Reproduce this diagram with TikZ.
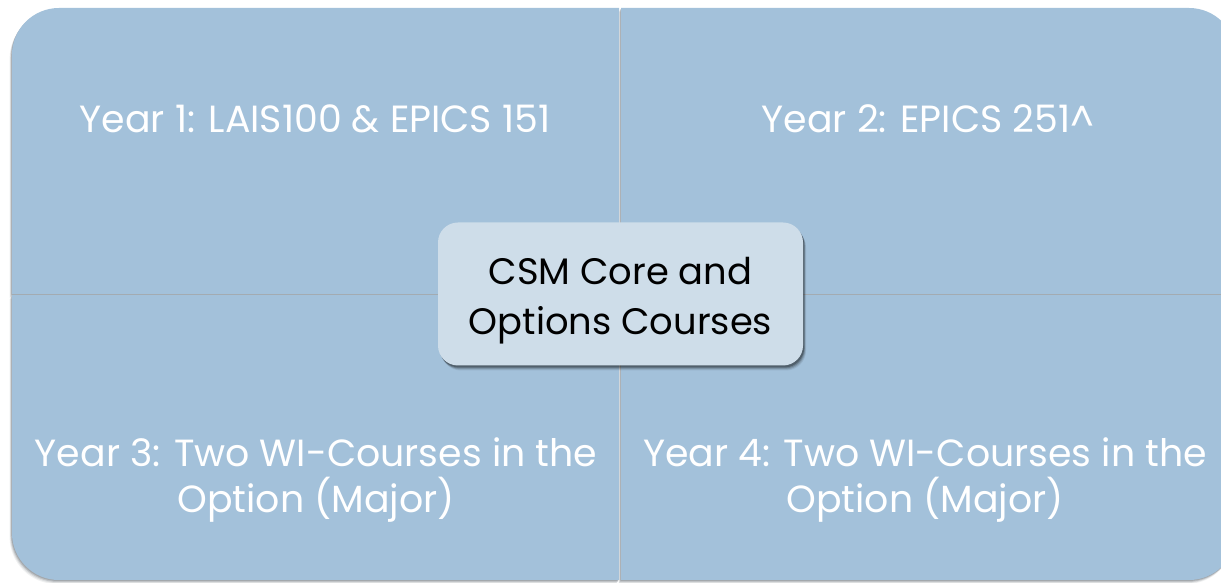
\documentclass[tikz,border=0pt]{standalone}
\usepackage{fontspec}
\setmainfont{Poppins}
\definecolor{quadfill}{RGB}{163,193,218}
\definecolor{hubfill}{RGB}{206,221,233}
\definecolor{quadshadow}{RGB}{110,118,126}
\tikzset{
  quad/.style={fill=quadfill},
  quadshade/.style={fill=quadshadow},
  yeartext/.style={text=white, align=center, font=\fontsize{38}{47}\selectfont, inner sep=0pt},
  hub/.style={fill=hubfill, rounded corners=20bp, minimum width=365bp, minimum height=143bp, inner sep=0pt},
  hubtext/.style={align=center, text=black, font=\fontsize{37}{50}\selectfont, inner sep=0pt},
}
\newcommand{\qr}{47}
\begin{document}
\begin{tikzpicture}[x=1bp,y=1bp]
\useasboundingbox (0,0) rectangle (1221,583);
\fill[white] (0,0) rectangle (1221,583);
\begin{scope}
\clip (0,0) rectangle (1221,583);
% soft shadow under the four quadrants
\foreach \o/\a in {4/0.10,3/0.15,2/0.25,1/0.35}{
  \begin{scope}[shift={(-0.6*\o,-\o)}]
    \fill[quadshade, opacity=\a] (12,289) -- (12,575-\qr) arc[start angle=180,end angle=90,radius=\qr] -- (619,575) -- (619,289) -- cycle;
    \fill[quadshade, opacity=\a] (621,289) -- (621,575) -- (1236-\qr,575) arc[start angle=90,end angle=0,radius=\qr] -- (1236,289) -- cycle;
    \fill[quadshade, opacity=\a] (12,288) -- (12,3+\qr) arc[start angle=180,end angle=270,radius=\qr] -- (619,3) -- (619,288) -- cycle;
    \fill[quadshade, opacity=\a] (621,288) -- (621,3) -- (1236-\qr,3) arc[start angle=270,end angle=360,radius=\qr] -- (1236,288) -- cycle;
  \end{scope}
}
% the four quadrants
\fill[quad] (12,289) -- (12,575-\qr) arc[start angle=180,end angle=90,radius=\qr] -- (619,575) -- (619,289) -- cycle;
\fill[quad] (621,289) -- (621,575) -- (1236-\qr,575) arc[start angle=90,end angle=0,radius=\qr] -- (1236,289) -- cycle;
\fill[quad] (12,288) -- (12,3+\qr) arc[start angle=180,end angle=270,radius=\qr] -- (619,3) -- (619,288) -- cycle;
\fill[quad] (621,288) -- (621,3) -- (1236-\qr,3) arc[start angle=270,end angle=360,radius=\qr] -- (1236,288) -- cycle;
\end{scope}
% quadrant labels
\node[yeartext] (y1) at (315,464) {Year 1: LAIS100 \& EPICS 151};
\node[yeartext] (y2) at (928,464) {Year 2: EPICS 251\^{}};
\node[yeartext] (y3) at (316,103) {Year 3: Two WI-Courses in the\\Option (Major)};
\node[yeartext] (y4) at (925,103) {Year 4: Two WI-Courses in the\\Option (Major)};
% central hub with its shadow
\foreach \o/\a in {5/0.08,4/0.12,3/0.18,2/0.25}{
  \fill[black, opacity=\a, rounded corners=20bp] (438+0.6*\o,217.5-\o) rectangle ++(365,143);
}
\node[hub] (hub) at (620.5,289) {};
\node[hubtext] (hublabel) at ([yshift=-7bp]hub.center) {CSM Core and\\Options Courses};
\end{tikzpicture}
\end{document}
